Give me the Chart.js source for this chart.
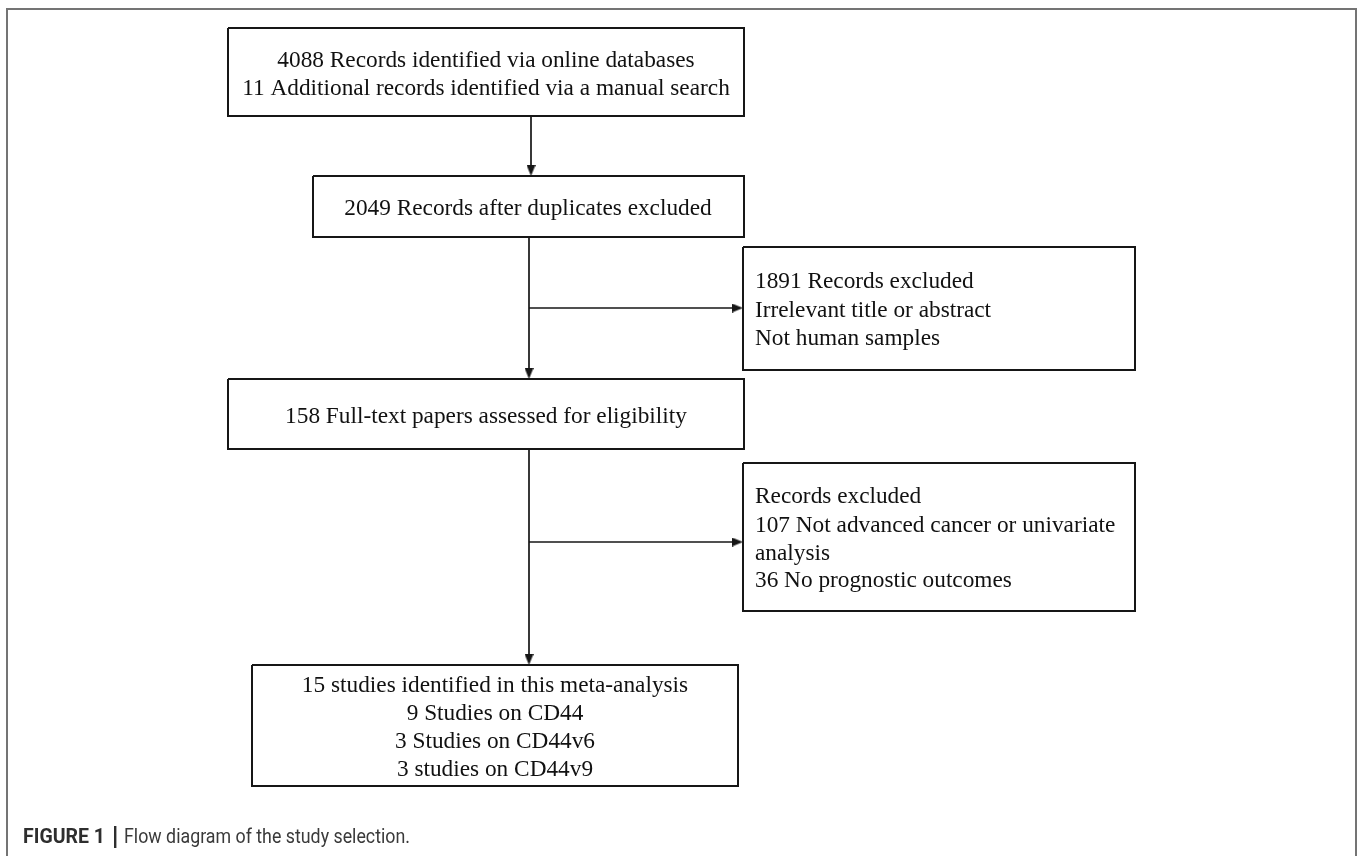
<!DOCTYPE html>
<html>
<head>
<meta charset="utf-8">
<script src="https://cdn.jsdelivr.net/npm/chart.js@4"></script>
<style>
  html, body { margin: 0; padding: 0; background: #ffffff; }
  #wrap { width: 1358px; height: 856px; position: relative; }
</style>
</head>
<body>
<div id="wrap"><canvas id="c" width="1358" height="856"></canvas></div>
<script>
// ---- data (counts) ----
const identifiedCounts = [4088, 11];
const afterDuplicatesCount = 2049;
const screeningExcludedCount = 1891;
const fullTextCount = 158;
const fullTextExcludedCounts = [107, 36];
const includedCounts = [15, 9, 3, 3];
const includedMarkers = ['', 'CD44', 'CD44v6', 'CD44v9'];
const captionBold = 'FIGURE 1';
const captionText = 'Flow diagram of the study selection.';

// ---- box texts built from the data ----
const boxTexts = [
  [identifiedCounts[0] + ' Records identified via online databases',
   identifiedCounts[1] + ' Additional records identified via a manual search'],
  [afterDuplicatesCount + ' Records after duplicates excluded'],
  [screeningExcludedCount + ' Records excluded', 'Irrelevant title or abstract', 'Not human samples'],
  [fullTextCount + ' Full-text papers assessed for eligibility'],
  ['Records excluded', fullTextExcludedCounts[0] + ' Not advanced cancer or univariate', 'analysis',
   fullTextExcludedCounts[1] + ' No prognostic outcomes'],
  [includedCounts[0] + ' studies identified in this meta-analysis',
   includedCounts[1] + ' Studies on ' + includedMarkers[1],
   includedCounts[2] + ' Studies on ' + includedMarkers[2],
   includedCounts[3] + ' studies on ' + includedMarkers[3]]
];

// ---- layout (positions in canvas units, separate from data) ----
const layout = {
  boxes: [
    { x0: 228, x1: 744, y0: 28,  y1: 116, align: 'center', tx: 486, base: [67, 95] },
    { x0: 313, x1: 744, y0: 176, y1: 237, align: 'center', tx: 528, base: [215] },
    { x0: 743, x1: 1135, y0: 247, y1: 370, align: 'left', tx: 755, base: [288, 317, 345] },
    { x0: 228, x1: 744, y0: 379, y1: 449, align: 'center', tx: 486, base: [423] },
    { x0: 743, x1: 1135, y0: 463, y1: 611, align: 'left', tx: 755, base: [503, 532, 560, 587] },
    { x0: 252, x1: 738, y0: 665, y1: 786, align: 'center', tx: 495, base: [692, 720, 748, 776] }
  ],
  arrows: [
    { from: [531, 116], to: [531, 176] },
    { from: [529, 237], to: [529, 379] },
    { from: [529, 308], to: [743, 308] },
    { from: [529, 449], to: [529, 665] },
    { from: [529, 542], to: [743, 542] }
  ],
  frame: [[7, 860], [7, 9], [1356, 9], [1356, 860]],
  headLen: 11,
  headHalf: 4.5
};

const ink = '#161616';

function makeHead(dir) {
  const L = layout.headLen, h = layout.headHalf;
  const c = document.createElement('canvas');
  if (dir === 'down') { c.width = Math.ceil(2 * h); c.height = L; }
  else { c.width = L; c.height = Math.ceil(2 * h); }
  const g = c.getContext('2d');
  g.fillStyle = ink;
  g.beginPath();
  if (dir === 'down') { g.moveTo(0, 0); g.lineTo(2 * h, 0); g.lineTo(h, L); }
  else { g.moveTo(0, 0); g.lineTo(0, 2 * h); g.lineTo(L, h); }
  g.closePath(); g.fill();
  return c;
}
const headDown = makeHead('down'), headRight = makeHead('right');

const datasets = [];
datasets.push({
  data: layout.frame.map(p => ({ x: p[0], y: p[1] })),
  showLine: true, borderColor: '#747474', borderWidth: 2, pointRadius: 0,
  fill: false, tension: 0, clip: false
});

layout.boxes.forEach(b => {
  datasets.push({
    data: [{x:b.x0,y:b.y0},{x:b.x1,y:b.y0},{x:b.x1,y:b.y1},{x:b.x0,y:b.y1},{x:b.x0,y:b.y0}],
    showLine: true, borderColor: ink, borderWidth: 2, borderJoinStyle: 'miter',
    pointRadius: 0, fill: false, tension: 0, clip: false
  });
});

const headPts = [], headStyles = [];
layout.arrows.forEach(a => {
  const vertical = a.from[0] === a.to[0];
  const L = layout.headLen;
  datasets.push({
    data: [{x:a.from[0], y:a.from[1]}, {x: vertical ? a.to[0] : a.to[0] - L + 1, y: vertical ? a.to[1] - L + 1 : a.to[1]}],
    showLine: true, borderColor: ink, borderWidth: 1.7, pointRadius: 0, fill: false, clip: false
  });
  if (vertical) { headPts.push({ x: a.to[0], y: a.to[1] - L / 2 }); headStyles.push(headDown); }
  else { headPts.push({ x: a.to[0] - L / 2, y: a.to[1] }); headStyles.push(headRight); }
});

datasets.push({
  data: headPts, showLine: false, pointStyle: headStyles, pointRadius: 6,
  backgroundColor: ink, borderColor: ink, borderWidth: 0, clip: false
});

const textPlugin = {
  id: 'flowText',
  afterDatasetsDraw(chart) {
    const ctx = chart.ctx, xs = chart.scales.x, ys = chart.scales.y;
    ctx.save();
    ctx.fillStyle = '#111';
    ctx.font = '23.3px "Liberation Serif", "Times New Roman", serif';
    ctx.textBaseline = 'alphabetic';
    layout.boxes.forEach((b, i) => {
      ctx.textAlign = b.align;
      boxTexts[i].forEach((t, j) => {
        ctx.fillText(t, xs.getPixelForValue(b.tx), ys.getPixelForValue(b.base[j]));
      });
    });
    // caption
    const base = ys.getPixelForValue(843);
    ctx.textAlign = 'left';
    ctx.fillStyle = '#2e2e2e';
    ctx.font = 'bold 21px Roboto, "Liberation Sans", sans-serif';
    let w = ctx.measureText(captionBold).width;
    ctx.save();
    ctx.translate(xs.getPixelForValue(23), base);
    ctx.scale(82 / w, 1);
    ctx.fillText(captionBold, 0, 0);
    ctx.restore();
    ctx.fillRect(xs.getPixelForValue(114), ys.getPixelForValue(826), 2.4, 22);
    ctx.fillStyle = '#3a3a3a';
    ctx.font = '21px Roboto, "Liberation Sans", sans-serif';
    w = ctx.measureText(captionText).width;
    ctx.save();
    ctx.translate(xs.getPixelForValue(124), base);
    ctx.scale(286 / w, 1);
    ctx.fillText(captionText, 0, 0);
    ctx.restore();
    ctx.restore();
  }
};

new Chart(document.getElementById('c'), {
  type: 'scatter',
  data: { datasets },
  options: {
    responsive: false,
    animation: false,
    events: [],
    layout: { padding: 0, autoPadding: false },
    plugins: { legend: { display: false }, tooltip: { enabled: false } },
    scales: {
      x: { type: 'linear', min: 0, max: 1358, display: false },
      y: { type: 'linear', min: 0, max: 856, reverse: true, display: false }
    }
  },
  plugins: [textPlugin]
});
</script>
</body>
</html>
